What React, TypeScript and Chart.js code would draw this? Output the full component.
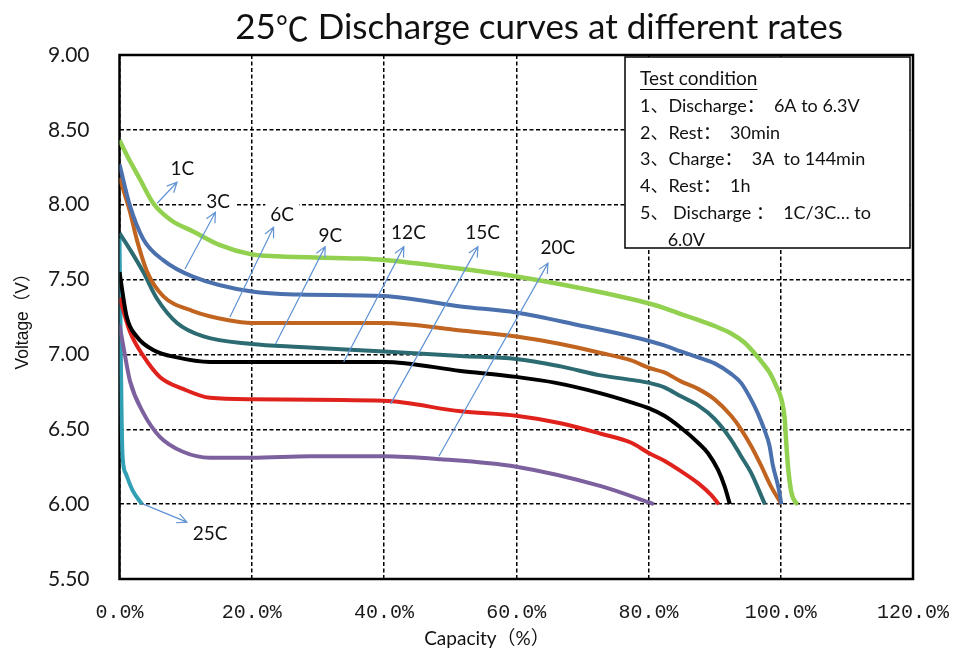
import { useEffect, useRef } from 'react'
import { Chart, registerables } from 'chart.js'

Chart.register(...registerables)

// capacity (%) / voltage (V) pairs
const rateNames = ['1C', '3C', '6C', '9C', '12C', '15C', '20C', '25C']
const rateColors = ['#92d050', '#4a70ae', '#c06420', '#2b6b71', '#000000', '#e0221c', '#7d619f', '#31a0b4']

const curve1C = [[0, 8.43], [1.6, 8.29], [3.1, 8.17], [5.1, 8.01], [7.7, 7.9], [11.2, 7.82], [15.2, 7.73], [19.8, 7.67], [23.8, 7.655], [36.4, 7.64], [40, 7.63], [50, 7.58], [60, 7.52], [70, 7.44], [77.4, 7.37], [80.1, 7.34], [82.4, 7.31], [84.9, 7.27], [87.5, 7.23], [90, 7.19], [92.5, 7.14], [94.5, 7.08], [96, 7.01], [97.3, 6.94], [98.3, 6.88], [99.3, 6.79], [100.1, 6.7], [100.6, 6.57], [100.8, 6.43], [101.1, 6.25], [101.6, 6.08], [102.3, 6.01], [102.6, 6.0]]
const curve3C = [[0, 8.27], [1.6, 7.99], [3.6, 7.77], [6.6, 7.63], [11.1, 7.52], [20, 7.42], [27.3, 7.4], [40, 7.39], [51.6, 7.32], [60, 7.28], [70, 7.19], [77.4, 7.12], [80.1, 7.09], [82.4, 7.06], [84.9, 7.02], [87.5, 6.98], [90, 6.94], [92.5, 6.87], [94, 6.81], [95.5, 6.7], [96.5, 6.61], [97.5, 6.5], [98.3, 6.39], [98.8, 6.26], [99.6, 6.12], [100.1, 6.0]]
const curve6C = [[0, 8.18], [1.6, 7.95], [2.6, 7.77], [4.2, 7.55], [6.6, 7.39], [11.1, 7.29], [16.3, 7.23], [20, 7.21], [40, 7.21], [51.6, 7.16], [60, 7.12], [66.7, 7.07], [72.8, 7.01], [77.4, 6.96], [80.1, 6.91], [82.4, 6.88], [84.9, 6.82], [87.5, 6.77], [90, 6.7], [92.5, 6.59], [94, 6.5], [95.5, 6.39], [97, 6.26], [98.5, 6.12], [100.1, 6.0]]
const curve9C = [[0, 7.81], [1.6, 7.7], [3.6, 7.55], [5.7, 7.37], [8.7, 7.21], [12.7, 7.12], [20, 7.07], [27.3, 7.05], [40, 7.02], [51.6, 6.99], [60, 6.97], [66.7, 6.92], [72.8, 6.86], [77.4, 6.83], [80.1, 6.81], [82.4, 6.78], [84.9, 6.72], [87.5, 6.66], [90, 6.57], [92.5, 6.43], [94, 6.32], [95.5, 6.21], [97.6, 6.0]]
const curve12C = [[0, 7.55], [1.1, 7.25], [2.6, 7.12], [5.1, 7.03], [8.7, 6.98], [13.7, 6.95], [20, 6.95], [40, 6.95], [51.6, 6.89], [60, 6.85], [66, 6.81], [72.8, 6.74], [77.4, 6.68], [80.1, 6.64], [82.4, 6.59], [84.9, 6.51], [87.5, 6.41], [89, 6.34], [90.5, 6.23], [91.5, 6.12], [92.3, 6.0]]
const curve15C = [[0, 7.38], [1.6, 7.15], [3.6, 6.99], [6.1, 6.85], [9.6, 6.77], [13.7, 6.71], [20, 6.7], [40, 6.69], [51.6, 6.62], [60, 6.59], [66.7, 6.54], [72.8, 6.47], [77.4, 6.41], [80.1, 6.34], [82.4, 6.29], [84.9, 6.22], [87.5, 6.14], [89.5, 6.06], [90.6, 6.0]]
const curve20C = [[0, 7.2], [0.8, 7.0], [1.6, 6.82], [3.6, 6.61], [6.1, 6.45], [9.6, 6.35], [13.7, 6.31], [20, 6.31], [28.9, 6.32], [40, 6.32], [48.6, 6.3], [60, 6.25], [72.8, 6.12], [80.8, 6.0]]
const curve25C = [[0, 7.78], [0.2, 7.0], [0.35, 6.5], [0.5, 6.3], [1.0, 6.2], [2.0, 6.09], [3.4, 6.0]]

const curves = [curve1C, curve3C, curve6C, curve9C, curve12C, curve15C, curve20C, curve25C]

const capacityMin = 0
const capacityMax = 120
const capacityStep = 20
const voltageMin = 5.5
const voltageMax = 9
const voltageStep = 0.5

// callout labels and the arrows pointing at each curve (capacity %, voltage V)
const calloutLabels = [['1C', 9.5, 8.24], ['3C', 14.9, 8.02], ['6C', 24.6, 7.93], ['9C', 31.9, 7.79], ['12C', 43.7, 7.81], ['15C', 54.9, 7.81], ['20C', 66.3, 7.71], ['25C', 13.7, 5.8]]
const calloutArrows = [
  [5.7, 8.01, 8.7, 8.15],
  [9.9, 7.57, 14.5, 7.95],
  [16.7, 7.25, 23.3, 7.85],
  [23.6, 7.07, 31.1, 7.72],
  [33.9, 6.95, 43.0, 7.72],
  [41.0, 6.67, 54.2, 7.72],
  [48.3, 6.32, 64.8, 7.61],
  [3.6, 6.0, 10.2, 5.88],
]

const titleParts = ['25', '℃', ' Discharge curves at different rates']
const xTitle = 'Capacity（%）'
const yTitle = 'Voltage（V）'
const conditionTitle = 'Test condition'
const conditionLines = ['1、Discharge：  6A to 6.3V', '2、Rest：  30min', '3、Charge：  3A  to 144min', '4、Rest：  1h', '5、 Discharge ：  1C/3C… to', '      6.0V']

const sansFont = "Lato, 'Noto Sans CJK SC', sans-serif"
const cjkFont = "'Noto Sans CJK SC', sans-serif"

const decorPlugin = {
  id: 'decor',
  beforeDatasetsDraw(chart: any) {
    const { ctx, scales, chartArea } = chart
    const x = scales.x
    const y = scales.y
    ctx.save()
    ctx.font = `19px ${sansFont}`
    ctx.textAlign = 'center'
    ctx.textBaseline = 'middle'
    calloutLabels.forEach(([name, cx, cy]: any) => {
      const px = x.getPixelForValue(cx)
      const py = y.getPixelForValue(cy)
      const w = ctx.measureText(name).width
      ctx.fillStyle = '#ffffff'
      ctx.fillRect(px - w / 2 - 5, py - 13, w + 10, 26)
      ctx.fillStyle = '#111111'
      ctx.fillText(name, px, py)
    })

    // plot frame
    ctx.strokeStyle = '#000000'
    ctx.lineWidth = 2.5
    ctx.strokeRect(chartArea.left, chartArea.top, chartArea.right - chartArea.left, chartArea.bottom - chartArea.top)
    ctx.restore()
  },
  afterDatasetsDraw(chart: any) {
    const { ctx, scales } = chart
    const x = scales.x
    const y = scales.y
    ctx.save()

    // arrows
    ctx.strokeStyle = '#6093d4'
    ctx.lineWidth = 1.2
    calloutArrows.forEach(([x0, y0, x1, y1]) => {
      const ax = x.getPixelForValue(x0)
      const ay = y.getPixelForValue(y0)
      const bx = x.getPixelForValue(x1)
      const by = y.getPixelForValue(y1)
      const ang = Math.atan2(by - ay, bx - ax)
      ctx.beginPath()
      ctx.moveTo(ax, ay)
      ctx.lineTo(bx, by)
      ctx.moveTo(bx - 11 * Math.cos(ang - 0.45), by - 11 * Math.sin(ang - 0.45))
      ctx.lineTo(bx, by)
      ctx.lineTo(bx - 11 * Math.cos(ang + 0.45), by - 11 * Math.sin(ang + 0.45))
      ctx.stroke()
    })

    // test condition box
    const bx = 625
    const by = 57
    ctx.fillStyle = '#ffffff'
    ctx.fillRect(bx, by, 285, 191)
    ctx.strokeStyle = '#000000'
    ctx.lineWidth = 1.5
    ctx.strokeRect(bx, by, 285, 191)
    ctx.fillStyle = '#111111'
    ctx.font = `19px ${sansFont}`
    ctx.textAlign = 'left'
    ctx.textBaseline = 'middle'
    ctx.fillText(conditionTitle, 640, 79)
    const tw = ctx.measureText(conditionTitle).width
    ctx.lineWidth = 1
    ctx.beginPath()
    ctx.moveTo(640, 89.5)
    ctx.lineTo(640 + tw, 89.5)
    ctx.stroke()
    ctx.font = `18px ${sansFont}`
    conditionLines.forEach((line, i) => {
      ctx.fillText(line, 640, 106 + i * 26.8)
    })

    // chart title, drawn in pieces so the degree sign uses the CJK glyph
    const titleFonts = [`35px ${sansFont}`, `33px ${cjkFont}`, `35px ${sansFont}`]
    const widths = titleParts.map((part, i) => {
      ctx.font = titleFonts[i]
      return ctx.measureText(part).width
    })
    let tx = 539 - widths.reduce((a, b) => a + b, 0) / 2
    titleParts.forEach((part, i) => {
      ctx.font = titleFonts[i]
      ctx.fillText(part, tx, 28)
      tx += widths[i]
    })

    // axis titles
    ctx.textAlign = 'center'
    ctx.font = `19px ${sansFont}`
    ctx.fillText(xTitle, 487, 639)
    ctx.translate(23, 317)
    ctx.rotate(-Math.PI / 2)
    ctx.font = "17.5px 'Liberation Sans', 'Noto Sans CJK SC', sans-serif"
    ctx.fillText(yTitle, 0, 0)
    ctx.restore()
  },
}

export default function App() {
  const chartRef = useRef<HTMLCanvasElement | null>(null)

  useEffect(() => {
    let chartInstance: Chart | null = null
    if (chartRef.current) {
      chartInstance = new Chart(chartRef.current, {
        type: 'scatter',
        data: {
          datasets: curves.map((points, index) => ({
            label: rateNames[index],
            data: points.map(([cx, v]) => ({ x: cx, y: v })),
            showLine: true,
            borderColor: rateColors[index],
            backgroundColor: rateColors[index],
            borderWidth: index === 0 ? 4.5 : 4,
            pointRadius: 0,
            cubicInterpolationMode: 'monotone' as const,
          })),
        },
        options: {
          animation: false,
          responsive: false,
          layout: { padding: { top: 55, right: 47, left: 0, bottom: 0 } },
          plugins: {
            legend: { display: false },
            title: { display: false },
            tooltip: { enabled: false },
          },
          scales: {
            x: {
              type: 'linear',
              min: capacityMin,
              max: capacityMax,
              afterFit: (scale: any) => {
                scale.height = 79
                scale.paddingLeft = 0
                scale.paddingRight = 0
              },
              ticks: {
                stepSize: capacityStep,
                padding: 22,
                color: '#1a1a1a',
                font: { family: "'Liberation Mono', monospace", size: 20 },
                callback: (v: any) => Number(v).toFixed(1) + '%',
              },
              grid: { color: '#000000', lineWidth: 1.5, drawTicks: false },
              border: { display: false, dash: [4, 2.5] },
            },
            y: {
              type: 'linear',
              min: voltageMin,
              max: voltageMax,
              afterFit: (scale: any) => {
                scale.width = 119.5
              },
              ticks: {
                stepSize: voltageStep,
                padding: 30,
                color: '#1a1a1a',
                font: { family: sansFont, size: 21 },
                callback: (v: any) => Number(v).toFixed(2),
              },
              grid: { color: '#000000', lineWidth: 1.5, drawTicks: false },
              border: { display: false, dash: [4, 2.5] },
            },
          },
        },
        plugins: [decorPlugin],
      })
    }
    return () => {
      if (chartInstance) {
        chartInstance.destroy()
      }
    }
  }, [])

  return (
    <div style={{ position: 'fixed', left: 0, top: 0, width: 960, height: 658, background: '#ffffff' }}>
      <canvas ref={chartRef} width={960} height={658} />
    </div>
  )
}
